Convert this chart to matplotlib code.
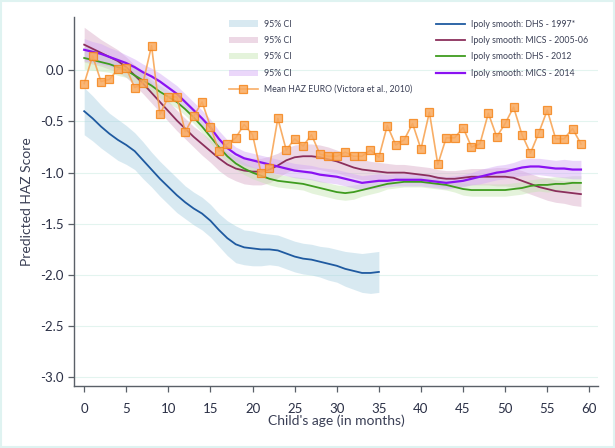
import matplotlib
matplotlib.use("Agg")
import matplotlib.pyplot as plt
from matplotlib.patches import Rectangle

plt.rcParams["font.family"] = ["Lato", "DejaVu Sans"]

# ---- data ----
months = list(range(60))
months_1997 = list(range(36))

haz_euro = [-0.13, 0.14, -0.11, -0.09, 0.01, 0.02, -0.17, -0.12, 0.24, -0.43,
            -0.26, -0.26, -0.60, -0.45, -0.31, -0.55, -0.79, -0.72, -0.66, -0.53,
            -0.63, -1.00, -0.95, -0.47, -0.78, -0.67, -0.74, -0.63, -0.82, -0.84,
            -0.84, -0.80, -0.84, -0.84, -0.78, -0.85, -0.54, -0.73, -0.68, -0.52,
            -0.77, -0.41, -0.92, -0.66, -0.66, -0.56, -0.75, -0.72, -0.42, -0.65,
            -0.52, -0.36, -0.63, -0.81, -0.61, -0.39, -0.67, -0.67, -0.57, -0.72]

dhs_1997 = [-0.40, -0.47, -0.55, -0.62, -0.68, -0.73, -0.79, -0.88, -0.97, -1.06,
            -1.14, -1.22, -1.29, -1.35, -1.40, -1.47, -1.56, -1.64, -1.70, -1.73,
            -1.74, -1.75, -1.75, -1.76, -1.79, -1.82, -1.84, -1.85, -1.87, -1.89,
            -1.91, -1.94, -1.96, -1.98, -1.98, -1.97]
dhs_1997_hw = [0.23, 0.22, 0.21, 0.20, 0.20, 0.19, 0.18, 0.18, 0.17, 0.17,
               0.17, 0.17, 0.16, 0.16, 0.16, 0.16, 0.16, 0.17, 0.18, 0.17,
               0.17, 0.16, 0.15, 0.15, 0.15, 0.15, 0.15, 0.15, 0.15, 0.16,
               0.16, 0.17, 0.18, 0.19, 0.20, 0.20]

mics_2005 = [0.25, 0.21, 0.17, 0.13, 0.09, 0.03, -0.05, -0.13, -0.22, -0.31,
             -0.40, -0.49, -0.57, -0.65, -0.72, -0.79, -0.86, -0.92, -0.96, -0.98,
             -0.99, -0.99, -0.97, -0.93, -0.88, -0.85, -0.84, -0.84, -0.85, -0.87,
             -0.89, -0.92, -0.95, -0.97, -0.98, -0.99, -1.00, -1.00, -1.00, -1.01,
             -1.02, -1.03, -1.05, -1.06, -1.06, -1.05, -1.04, -1.04, -1.04, -1.04,
             -1.04, -1.05, -1.08, -1.11, -1.14, -1.16, -1.18, -1.19, -1.20, -1.21]
mics_2005_hw = [0.17, 0.15, 0.13, 0.12, 0.11, 0.10, 0.10, 0.10, 0.10, 0.10,
                0.10, 0.10, 0.10, 0.10, 0.11, 0.11, 0.12, 0.12, 0.12, 0.13,
                0.13, 0.13, 0.13, 0.12, 0.12, 0.12, 0.12, 0.12, 0.12, 0.12,
                0.11, 0.11, 0.10, 0.10, 0.09, 0.09, 0.09, 0.08, 0.08, 0.08,
                0.08, 0.08, 0.08, 0.08, 0.08, 0.08, 0.08, 0.08, 0.08, 0.09,
                0.09, 0.09, 0.10, 0.10, 0.10, 0.11, 0.11, 0.11, 0.12, 0.12]

dhs_2012 = [0.12, 0.10, 0.08, 0.06, 0.03, 0.00, -0.05, -0.10, -0.15, -0.21,
            -0.26, -0.31, -0.38, -0.46, -0.55, -0.65, -0.75, -0.84, -0.91, -0.96,
            -1.00, -1.03, -1.06, -1.08, -1.09, -1.10, -1.11, -1.13, -1.15, -1.17,
            -1.19, -1.20, -1.19, -1.17, -1.15, -1.13, -1.11, -1.10, -1.09, -1.09,
            -1.09, -1.10, -1.11, -1.12, -1.14, -1.16, -1.17, -1.17, -1.17, -1.17,
            -1.17, -1.16, -1.15, -1.13, -1.12, -1.12, -1.11, -1.11, -1.10, -1.10]
dhs_2012_hw = [0.11, 0.10, 0.09, 0.08, 0.08, 0.07, 0.07, 0.07, 0.06, 0.06,
               0.06, 0.06, 0.06, 0.06, 0.06, 0.06, 0.06, 0.06, 0.06, 0.06,
               0.06, 0.06, 0.06, 0.06, 0.06, 0.06, 0.06, 0.07, 0.07, 0.07,
               0.07, 0.07, 0.07, 0.06, 0.06, 0.06, 0.05, 0.05, 0.05, 0.05,
               0.05, 0.05, 0.05, 0.05, 0.05, 0.06, 0.06, 0.06, 0.06, 0.06,
               0.06, 0.06, 0.06, 0.06, 0.06, 0.07, 0.07, 0.07, 0.07, 0.07]

mics_2014 = [0.20, 0.18, 0.16, 0.13, 0.10, 0.07, 0.03, -0.02, -0.06, -0.11,
             -0.17, -0.23, -0.31, -0.39, -0.47, -0.56, -0.67, -0.76, -0.82, -0.86,
             -0.88, -0.90, -0.92, -0.94, -0.96, -0.98, -0.99, -1.00, -1.02, -1.03,
             -1.04, -1.06, -1.08, -1.10, -1.09, -1.08, -1.08, -1.07, -1.07, -1.07,
             -1.07, -1.08, -1.09, -1.10, -1.09, -1.08, -1.06, -1.04, -1.02, -1.00,
             -0.99, -0.97, -0.95, -0.94, -0.94, -0.95, -0.96, -0.96, -0.97, -0.97]
mics_2014_hw = [0.11, 0.10, 0.10, 0.09, 0.09, 0.08, 0.08, 0.08, 0.08, 0.08,
                0.08, 0.08, 0.08, 0.08, 0.08, 0.08, 0.08, 0.08, 0.07, 0.07,
                0.07, 0.07, 0.07, 0.07, 0.07, 0.07, 0.07, 0.07, 0.07, 0.07,
                0.07, 0.07, 0.07, 0.07, 0.07, 0.07, 0.06, 0.06, 0.06, 0.06,
                0.06, 0.06, 0.06, 0.06, 0.06, 0.06, 0.06, 0.07, 0.07, 0.07,
                0.07, 0.07, 0.08, 0.08, 0.08, 0.08, 0.08, 0.09, 0.09, 0.09]

x_ticks = list(range(0, 61, 5))
y_ticks = [-3.0, -2.5, -2.0, -1.5, -1.0, -0.5, 0.0]


def band(values, half):
    lo = [v - h for v, h in zip(values, half)]
    hi = [v + h for v, h in zip(values, half)]
    return lo, hi


fig = plt.figure(figsize=(6.15, 4.48), dpi=100)
ax = fig.add_axes([0.121, 0.138, 0.851, 0.824])

series = [
    (months_1997, dhs_1997, dhs_1997_hw, "#1f5aa0", "#a9d0e2", "Ipoly smooth: DHS - 1997*"),
    (months, mics_2005, mics_2005_hw, "#8b2f5c", "#d8aac6", "Ipoly smooth: MICS - 2005-06"),
    (months, dhs_2012, dhs_2012_hw, "#3f9c1f", "#c4e6b0", "Ipoly smooth: DHS - 2012"),
    (months, mics_2014, mics_2014_hw, "#8a12f2", "#d3a8f6", "Ipoly smooth: MICS - 2014"),
]

ci_handles = []
line_handles = []
for x, y, hw, lc, bc, label in series:
    lo, hi = band(y, hw)
    ci_handles.append(ax.fill_between(x, lo, hi, color=bc, alpha=0.45, lw=0, label="95% CI"))
for x, y, hw, lc, bc, label in series:
    lw = 1.6 if "2014" in label else 1.3
    (ln,) = ax.plot(x, y, color=lc, lw=lw, label=label)
    line_handles.append(ln)

(euro,) = ax.plot(months, haz_euro, color="#f7a04c", lw=1.2, alpha=0.85,
                  marker="s", markersize=6, markerfacecolor="#f9a95e",
                  markeredgecolor="#f5861c", markeredgewidth=0.9,
                  label="Mean HAZ EURO (Victora et al., 2010)", zorder=5)

ax.set_xlim(-1.16, 61.0)
ax.set_ylim(-3.086, 0.52)
ax.set_xticks(x_ticks)
ax.set_yticks(y_ticks)
ax.set_yticklabels([f"{v:.1f}" for v in y_ticks])
ax.grid(axis="y", color="#e3f4ef", lw=0.8)
ax.set_axisbelow(True)
for side in ("top", "right"):
    ax.spines[side].set_visible(False)
for side in ("left", "bottom"):
    ax.spines[side].set_color("#5a6068")
    ax.spines[side].set_linewidth(1.0)
ax.tick_params(colors="#5a6068", labelcolor="#2a2f45", labelsize=9.5, length=4, width=0.9)
ax.tick_params(axis="x", pad=8)
ax.set_xlabel("Child's age (in months)", fontsize=10, color="#3a3f55", labelpad=0)
ax.set_ylabel("Predicted HAZ Score", fontsize=10, color="#3a3f55", labelpad=5)

handles = ci_handles + [euro] + line_handles
fig.legend(handles, [h.get_label() for h in handles],
           ncol=2, loc="upper left", bbox_to_anchor=(0.365, 0.966),
           frameon=False, fontsize=6.3, handlelength=3.3, handletextpad=0.7,
           columnspacing=2.7, labelspacing=0.84, borderpad=0, labelcolor="#3a3f55")

fig.patches.append(Rectangle((0.002, 0.002), 0.996, 0.996, transform=fig.transFigure,
                             fill=False, edgecolor="#dff3f1", lw=1.5))

fig.savefig("out.png", dpi=100)
